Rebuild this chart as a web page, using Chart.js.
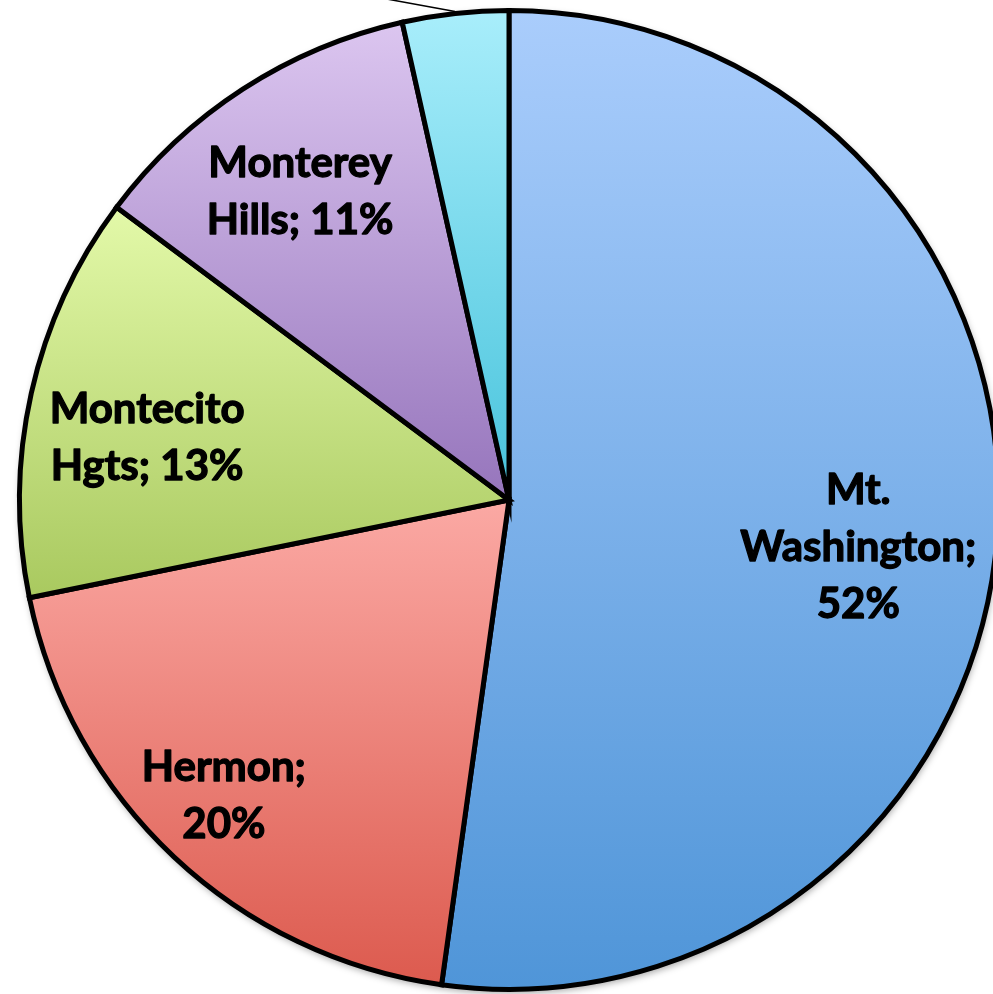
<!DOCTYPE html>
<html>
<head>
<meta charset="utf-8">
<script src="https://cdn.jsdelivr.net/npm/chart.js@4.4.1/dist/chart.umd.min.js"></script>
<style>
  html, body { margin: 0; padding: 0; background: #fff; overflow: hidden; }
  #wrap { position: absolute; left: 0; top: 0; width: 1018px; height: 1000px; }
</style>
</head>
<body>
<div id="wrap"><canvas id="pie" width="1018" height="1000"></canvas></div>
<script>
const categories = ['Mt. Washington', 'Hermon', 'Montecito Hgts', 'Monterey Hills', 'Other']
const shares = [52.2, 19.6, 13.4, 11.3, 3.5]

// gradient stops per slice (top -> bottom)
const topColors = ['#aacdfc', '#fba9a4', '#e3f9a9', '#dcc6f0', '#a9eefb']
const bottomColors = ['#4f95d8', '#dc5a4e', '#a9c95f', '#9675bc', '#47c3dc']

// where each label sits: [fraction of the slice angle, fraction of radius]
const labelSpots = [[0.52, 0.72], [0.51, 0.84], [0.44, 0.75], [0.47, 0.76], [-0.15, 1.06]]

const total = shares.reduce((a, b) => a + b, 0)
const LABEL_FONT = 'bold 42px Lato, "Open Sans", sans-serif'
const LINE_HEIGHT = 57

function sliceAngles(i) {
  let before = 0
  for (let k = 0; k < i; k++) before += shares[k]
  const start = -Math.PI / 2 + 2 * Math.PI * before / total
  const end = start + 2 * Math.PI * shares[i] / total
  return [start, end]
}

function sliceGradient(context) {
  const chart = context.chart
  const area = chart.chartArea
  const i = context.dataIndex
  if (!area || i === undefined) return topColors[i || 0]
  const cx = (area.left + area.right) / 2
  const cy = (area.top + area.bottom) / 2
  const r = Math.min(area.width, area.height) / 2
  const [start, end] = sliceAngles(i)
  const ys = [cy, cy + r * Math.sin(start), cy + r * Math.sin(end)]
  ;[-Math.PI / 2, Math.PI / 2, 3 * Math.PI / 2].forEach(k => {
    if (k >= start && k <= end) ys.push(cy + r * Math.sin(k))
  })
  const g = chart.ctx.createLinearGradient(0, Math.min(...ys), 0, Math.max(...ys))
  g.addColorStop(0, topColors[i])
  g.addColorStop(1, bottomColors[i])
  return g
}

function wrapText(ctx, text, maxWidth) {
  const words = text.split(' ')
  const lines = []
  let line = ''
  words.forEach(w => {
    const test = line ? line + ' ' + w : w
    if (line && ctx.measureText(test).width > maxWidth) {
      lines.push(line)
      line = w
    } else {
      line = test
    }
  })
  if (line) lines.push(line)
  return lines
}

const pieShadow = {
  id: 'pieShadow',
  beforeDatasetsDraw(chart) {
    const arc = chart.getDatasetMeta(0).data[0]
    if (!arc) return
    const ctx = chart.ctx
    ctx.save()
    ctx.shadowColor = 'rgba(0,0,0,0.35)'
    ctx.shadowBlur = 7
    ctx.shadowOffsetX = 1
    ctx.shadowOffsetY = 3
    ctx.fillStyle = '#fff'
    ctx.beginPath()
    ctx.arc(arc.x, arc.y, arc.outerRadius + 1, 0, Math.PI * 2)
    ctx.fill()
    ctx.restore()
  }
}

const sliceLabels = {
  id: 'sliceLabels',
  afterDatasetsDraw(chart) {
    const ctx = chart.ctx
    const meta = chart.getDatasetMeta(0)
    ctx.save()
    ctx.font = LABEL_FONT
    ctx.fillStyle = '#000'
    ctx.strokeStyle = '#000'
    meta.data.forEach((arc, i) => {
      const pct = Math.round(shares[i] / total * 100)
      const text = categories[i] + '; ' + pct + '%'
      const [fa, fr] = labelSpots[i]
      const a = arc.startAngle + (arc.endAngle - arc.startAngle) * fa
      const x = arc.x + arc.outerRadius * fr * Math.cos(a)
      const y = arc.y + arc.outerRadius * fr * Math.sin(a)
      if (fr > 1) {
        // outside label with a leader line
        const mid = (arc.startAngle + arc.endAngle) / 2
        ctx.lineWidth = 1.5
        ctx.beginPath()
        ctx.moveTo(arc.x + (arc.outerRadius + 2) * Math.cos(mid), arc.y + (arc.outerRadius + 2) * Math.sin(mid))
        ctx.lineTo(x, y)
        ctx.stroke()
        ctx.textAlign = 'right'
        ctx.textBaseline = 'bottom'
        ctx.fillText(text, x - 4, y - 4)
        return
      }
      const lines = wrapText(ctx, text, 220)
      ctx.textAlign = 'center'
      ctx.textBaseline = 'middle'
      ctx.lineWidth = 1.3
      ctx.lineJoin = 'round'
      lines.forEach((ln, k) => {
        const ly = y + (k - (lines.length - 1) / 2) * LINE_HEIGHT
        ctx.fillText(ln, x, ly)
        // Calibri bold is heavier than Lato bold, thicken a bit
        ctx.strokeText(ln, x, ly)
      })
    })
    ctx.restore()
  }
}

new Chart(document.getElementById('pie'), {
  type: 'pie',
  data: {
    labels: categories,
    datasets: [{
      data: shares,
      backgroundColor: sliceGradient,
      borderColor: '#000',
      borderWidth: 5,
      hoverBorderWidth: 5,
      borderJoinStyle: 'miter'
    }]
  },
  options: {
    responsive: false,
    animation: false,
    events: [],
    layout: { padding: { left: 17, right: 17, top: 8, bottom: 8 } },
    plugins: {
      legend: { display: false },
      tooltip: { enabled: false }
    }
  },
  plugins: [pieShadow, sliceLabels]
})
</script>
</body>
</html>
